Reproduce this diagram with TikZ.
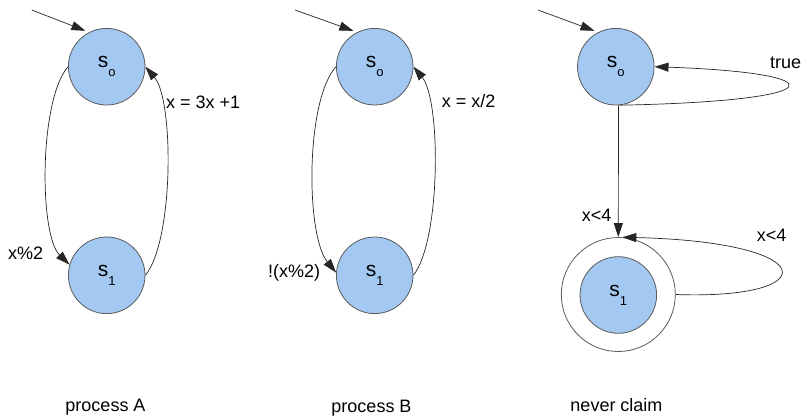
\documentclass[tikz,border=0pt]{standalone}
\usepackage{fontspec}
\setmainfont{Liberation Sans}
\usetikzlibrary{arrows.meta}
\definecolor{stfill}{RGB}{163,201,243}
\definecolor{stline}{RGB}{90,90,90}
\tikzset{
  state/.style={circle, draw=stline, fill=stfill, line width=0.8pt, minimum size=76.6pt, inner sep=0pt},
  accept/.style={circle, draw=stline, line width=0.8pt, minimum size=114pt, inner sep=0pt},
  edge/.style={draw=black!85, line width=0.7pt, -{Triangle[length=14pt,width=9pt]}},
  lbl/.style={font=\fontsize{18}{20}\selectfont, inner sep=0pt, anchor=base west},
  caption/.style={font=\fontsize{18}{20}\selectfont, inner sep=0pt, anchor=base}
}
\newcommand{\stz}{{\fontsize{21}{21}\selectfont s}\raisebox{-9pt}{\fontsize{13}{13}\selectfont o}}
\newcommand{\sto}{{\fontsize{21}{21}\selectfont s}\raisebox{-9pt}{\fontsize{13}{13}\selectfont 1}}
\begin{document}
\begin{tikzpicture}[x=1pt,y=-1pt]
\useasboundingbox (0,0) rectangle (804,418);
% process A
\node[state] (a0) at (106.7,66.7) {\stz};
\node[state] (a1) at (106.7,275.3) {\sto};
\coordinate (ai) at (31.7,10);
\draw[edge, shorten >=4pt] (ai) -- (a0.117);
\draw[edge] (a0.180) .. controls (39,100) and (39,235) .. (a1.164);
\draw[edge] (a1.0) .. controls (174,240) and (174,100) .. (a0.0);
\node[lbl] (la1) at (166,108) {x = 3x +1};
\node[lbl] (la2) at (8,259) {x\%2};
\node[caption] (ca) at (105.5,411) {process A};
% process B
\node[state] (b0) at (374.7,66.7) {\stz};
\node[state] (b1) at (374.7,275.3) {\sto};
\coordinate (bi) at (295,10);
\draw[edge, shorten >=4pt] (bi) -- (b0.117);
\draw[edge] (b0.180) .. controls (305.5,100) and (305.5,235) .. (b1.176);
\draw[edge] (b1.0) .. controls (441,240) and (441,100) .. (b0.0);
\node[lbl] (lb1) at (441.7,107) {x = x/2};
\node[lbl] (lb2) at (268,277) {!(x\%2)};
\node[caption] (cb) at (371.5,412) {process B};
% never claim
\node[state] (n0) at (615.8,66.7) {\stz};
\node[accept] (n1o) at (618.3,294.5) {};
\node[state] (n1) at (618.3,295) {\sto};
\coordinate (ni) at (538,10);
\draw[edge, shorten >=4pt] (ni) -- (n0.117);
\draw[edge] (n0.-84) .. controls (837,101) and (837,73) .. (n0.0);
\draw[edge] (n0.-86) -- (n1o.north);
\draw[edge] (n1o.0) .. controls (824,300) and (824,242) .. (n1o.86);
\node[lbl] (ln1) at (770,68) {true};
\node[lbl] (ln2) at (581.7,221) {x<4};
\node[lbl] (ln3) at (756.7,241) {x<4};
\node[caption] (cn) at (616.5,411) {never claim};
\end{tikzpicture}
\end{document}
